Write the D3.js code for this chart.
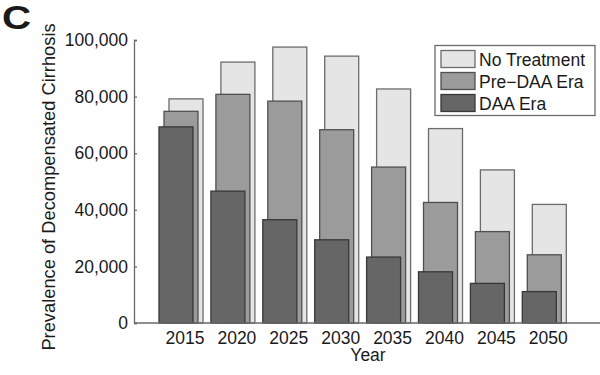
<!DOCTYPE html>
<html>
<head>
<meta charset="utf-8">
<script src="https://cdn.jsdelivr.net/npm/d3@7"></script>
<style>
  body { margin: 0; background: #fff; }
  svg text { font-family: "Liberation Sans", Arial, sans-serif; fill: #1a1a1a; }
</style>
</head>
<body>
<div id="chart"></div>
<script>
// values (patients)
const years = [2015, 2020, 2025, 2030, 2035, 2040, 2045, 2050];
const noTreatment = [79200, 92200, 97500, 94300, 82700, 68700, 54100, 41900];
const preDAA = [74800, 80800, 78400, 68300, 55100, 42600, 32300, 24100];
const daaEra = [69300, 46600, 36500, 29400, 23300, 18100, 14000, 11100];
const yTicks = [0, 20000, 40000, 60000, 80000, 100000];

const series = [
    { name: 'No Treatment', values: noTreatment, fill: '#e5e5e5', stroke: '#6c6c6c', shift: 1 },
    { name: 'Pre\u2212DAA Era', values: preDAA, fill: '#9b9b9b', stroke: '#505050', shift: 0 },
    { name: 'DAA Era', values: daaEra, fill: '#666666', stroke: '#383838', shift: -1 }
];

const width = 600, height = 375;
const margin = { top: 40, right: 0, bottom: 52, left: 134 };

const svg = d3.select('#chart').append('svg')
    .attr('width', width)
    .attr('height', height);

let y = d3.scaleLinear().domain([0, 100000]).range([height - margin.bottom, margin.top]);

// group centres, step about 52px
let x = d3.scalePoint().domain(years).range([181, 544.3]);
let barW = 34, offset = 5;

// bars, drawn back to front
series.forEach(s => {
    svg.append('g').selectAll('rect')
        .data(years.map((yr, i) => ({ yr: yr, v: s.values[i] })))
        .join('rect')
        .attr('x', d => x(d.yr) + s.shift * offset - barW / 2)
        .attr('y', d => y(d.v))
        .attr('width', barW)
        .attr('height', d => y(0) - y(d.v))
        .style('fill', s.fill)
        .style('stroke', s.stroke)
        .style('stroke-width', 1.3)
});

// y axis
let yAxis = d3.axisLeft(y).tickValues(yTicks).tickSize(-3).tickPadding(6)
    .tickFormat(d3.format(','));
let yG = svg.append('g')
    .attr('transform', 'translate(' + margin.left + ',0)')
    .call(yAxis);
yG.select('.domain').style('stroke', '#6a6a6a').style('stroke-width', 1.3);
yG.selectAll('.tick line').style('stroke', '#6a6a6a').style('stroke-width', 1.3);
yG.selectAll('text').style('font-size', '17.5px').attr('fill', '#1a1a1a');

// x axis baseline, runs off the right edge
svg.append('line')
    .attr('x1', margin.left).attr('x2', width)
    .attr('y1', y(0)).attr('y2', y(0))
    .style('stroke', '#6a6a6a').style('stroke-width', 1.3);

svg.append('g').selectAll('text')
    .data(years)
    .join('text')
    .attr('x', d => x(d) + 4)
    .attr('y', 344)
    .attr('text-anchor', 'middle')
    .style('font-size', '17.5px')
    .text(d => d);

svg.append('text')
    .attr('x', 368).attr('y', 360.5)
    .attr('text-anchor', 'middle')
    .style('font-size', '17.5px')
    .text('Year');

svg.append('text')
    .attr('transform', 'translate(55,187) rotate(-90)')
    .attr('text-anchor', 'middle')
    .style('font-size', '18.3px')
    .text('Prevalence of Decompensated Cirrhosis');

// panel letter
svg.append('text')
    .attr('transform', 'translate(2,29) scale(1.3,1.05)')
    .style('font-size', '31px')
    .style('font-weight', 'bold')
    .attr('fill', '#000')
    .text('C');

// legend
let legend = svg.append('g').attr('transform', 'translate(435,45.5)');
legend.append('rect')
    .attr('width', 160).attr('height', 70)
    .style('fill', '#fff').style('stroke', '#6a6a6a').style('stroke-width', 1.3);
let item = legend.selectAll('g.item')
    .data(series)
    .join('g')
    .attr('class', 'item')
    .attr('transform', (d, i) => 'translate(6,' + (5 + i * 22) + ')');
item.append('rect')
    .attr('width', 34).attr('height', 17)
    .style('fill', d => d.fill).style('stroke', d => d.stroke).style('stroke-width', 1.3);
item.append('text')
    .attr('x', 38).attr('y', 15)
    .style('font-size', '17.5px')
    .text(d => d.name);
</script>
</body>
</html>
